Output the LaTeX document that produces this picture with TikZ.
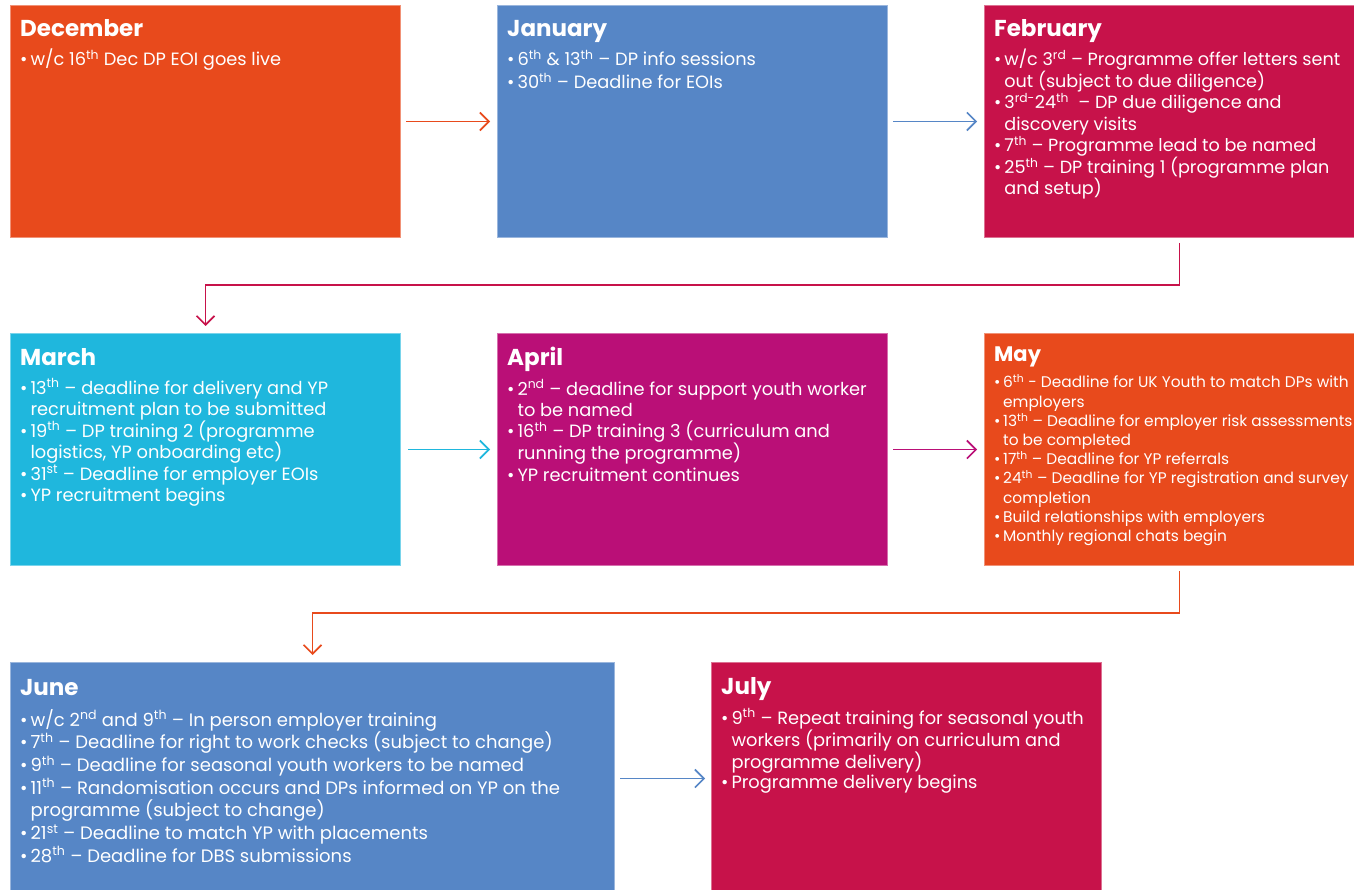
\documentclass[tikz,border=0pt]{standalone}
\usepackage{fontspec}
\setmainfont{Poppins}
\usetikzlibrary{arrows.meta}
\definecolor{cOr}{HTML}{E84A1C}
\definecolor{cBl}{HTML}{5686C6}
\definecolor{cCr}{HTML}{C7124A}
\definecolor{cCy}{HTML}{1FB7DD}
\definecolor{cMg}{HTML}{BA0F77}
\newlength\bw
\newcommand\bp{\par\hangindent=\bw\hangafter=1\noindent\makebox[\bw][l]{•}}
\newcommand\sups[1]{\textsuperscript{#1}}
\newcommand\nl{\newline}
\newcommand\bodytext[4]{\parbox[t]{#3pt}{\fontsize{#1}{#2}\selectfont\setlength\bw{0.58em}\raggedright\parindent0pt\parskip0pt #4}}
\tikzset{
  box/.style={rectangle, draw=#1!60!white, line width=1pt, fill=#1, minimum height=232pt, anchor=north west, inner sep=0pt},
  ttl/.style={anchor=base west, inner sep=0pt, text=white, font=\fontsize{23}{27}\selectfont\bfseries},
  body/.style={anchor=base west, inner sep=0pt, text=white},
  conn/.style={draw=#1, line width=1.6pt, -{Straight Barb[length=9pt,width=18pt,line width=1.6pt]}},
}
\begin{document}
\begin{tikzpicture}[x=1pt,y=-1pt]
\useasboundingbox (0,0) rectangle (1354,890);
\clip (0,0) rectangle (1354,890);
% boxes
\node[box=cOr, minimum width=390pt] (dec) at (10,5) {};
\node[box=cBl, minimum width=390pt] (jan) at (497,5) {};
\node[box=cCr, minimum width=390pt] (feb) at (984,5) {};
\node[box=cCy, minimum width=390pt] (mar) at (10,333) {};
\node[box=cMg, minimum width=390pt] (apr) at (497,333) {};
\node[box=cOr, minimum width=390pt] (may) at (984,333) {};
\node[box=cBl, minimum width=604pt] (jun) at (10,662) {};
\node[box=cCr, minimum width=390pt] (jul) at (711,662) {};
% titles
\node[ttl] (decH) at (20,37) {December};
\node[ttl] (janH) at (507,37) {January};
\node[ttl] (febH) at (994,37) {February};
\node[ttl] (marH) at (20,365) {March};
\node[ttl] (aprH) at (507,365) {April};
\node[ttl, font=\fontsize{21}{25}\selectfont\bfseries] (mayH) at (994,362) {May};
\node[ttl] (junH) at (20,695) {June};
\node[ttl] (julH) at (721,694) {July};
% bodies
\node[body] (decB) at (20,66) {\bodytext{17.8}{23}{380}{\bp w/c 16\sups{th} Dec DP EOI goes live}};
\node[body] (janB) at (507,66) {\bodytext{17.8}{23}{380}{%
\bp 6\sups{th} \& 13\sups{th} – DP info sessions
\bp 30\sups{th} – Deadline for EOIs}};
\node[body] (febB) at (994,66) {\bodytext{17.6}{21.5}{380}{%
\bp w/c 3\sups{rd} – Programme offer letters sent\nl out (subject to due diligence)
\bp 3\sups{rd-}24\sups{th}\ \ – DP due diligence and\nl discovery visits
\bp 7\sups{th} – Programme lead to be named
\bp 25\sups{th} – DP training 1 (programme plan\nl and setup)}};
\node[body] (marB) at (20,394) {\bodytext{17.8}{21.5}{380}{%
\bp 13\sups{th} – deadline for delivery and YP\nl recruitment plan to be submitted
\bp 19\sups{th} – DP training 2 (programme\nl logistics, YP onboarding etc)
\bp 31\sups{st} – Deadline for employer EOIs
\bp YP recruitment begins}};
\node[body] (aprB) at (507,395) {\bodytext{17.8}{21.5}{380}{%
\bp 2\sups{nd} – deadline for support youth worker\nl to be named
\bp 16\sups{th} – DP training 3 (curriculum and\nl running the programme)
\bp YP recruitment continues}};
\node[body] (mayB) at (994,388) {\bodytext{15.4}{19.2}{400}{%
\bp 6\sups{th} - Deadline for UK Youth to match DPs with\nl employers
\bp 13\sups{th} – Deadline for employer risk assessments\nl to be completed
\bp 17\sups{th} – Deadline for YP referrals
\bp 24\sups{th} – Deadline for YP registration and survey\nl completion
\bp Build relationships with employers
\bp Monthly regional chats begin}};
\node[body] (junB) at (20,726) {\bodytext{18}{22.7}{590}{%
\bp w/c 2\sups{nd} and 9\sups{th} – In person employer training
\bp 7\sups{th} – Deadline for right to work checks (subject to change)
\bp 9\sups{th} – Deadline for seasonal youth workers to be named
\bp 11\sups{th} – Randomisation occurs and DPs informed on YP on the\nl programme (subject to change)
\bp 21\sups{st} – Deadline to match YP with placements
\bp 28\sups{th} – Deadline for DBS submissions}};
\node[body] (julB) at (721,724) {\bodytext{17.8}{20.2}{380}{%
\bp 9\sups{th} – Repeat training for seasonal youth\nl workers (primarily on curriculum and\nl programme delivery)
\bp Programme delivery begins}};
% connectors
\draw[conn=cOr, shorten <=5pt, shorten >=7pt] (dec) -- (jan);
\draw[conn=cBl, shorten <=5pt, shorten >=7pt] (jan) -- (feb);
\draw[conn=cCy, shorten <=7pt, shorten >=7pt] (mar) -- (apr);
\draw[conn=cMg, shorten <=5pt, shorten >=7pt] (apr) -- (may);
\draw[conn=cBl, shorten <=5pt, shorten >=6pt] (jun) -- (jul);
\coordinate (fm) at (0,285);
\coordinate (mj) at (0,613);
\draw[conn=cCr, shorten <=5pt, shorten >=7pt] (feb.south) -- (feb.south |- fm) -| (mar.north);
\draw[conn=cOr, shorten <=5pt, shorten >=7pt] (may.south) -- (may.south |- mj) -| (jun.north);
\end{tikzpicture}
\end{document}
